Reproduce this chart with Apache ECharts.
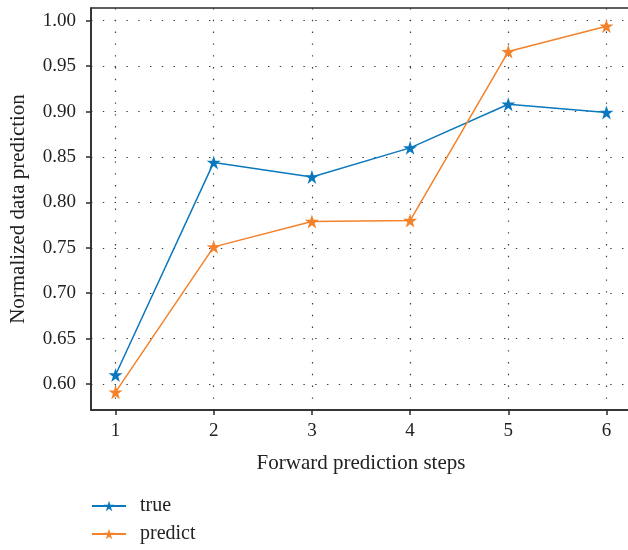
<!DOCTYPE html>
<html>
<head>
<meta charset="utf-8">
<script src="https://cdn.jsdelivr.net/npm/echarts@6/dist/echarts.min.js"></script>
<style>
html,body{margin:0;padding:0;background:#fff;}
#chart{width:628px;height:550px;}
</style>
</head>
<body>
<div id="chart"></div>
<script>
const steps = [1, 2, 3, 4, 5, 6];
const trueVals = [0.610, 0.844, 0.828, 0.860, 0.908, 0.899];
const predictVals = [0.591, 0.751, 0.779, 0.780, 0.966, 0.994];
const xTickValues = [1, 2, 3, 4, 5, 6];
const yTickValues = [0.60, 0.65, 0.70, 0.75, 0.80, 0.85, 0.90, 0.95, 1.00];
const seriesNames = ['true', 'predict'];
const xName = 'Forward prediction steps';
const yName = 'Normalized data prediction';

const FONT = 'Liberation Serif';
const STAR = 'path://M12,0 L14.9,8.6 L24,8.6 L16.6,14 L19.4,22.8 L12,17.4 L4.6,22.8 L7.4,14 L0,8.6 L9.1,8.6 Z';
const BLUE = '#0b78bd';
const ORANGE = '#f4822a';
const AXIS = '#2a2a2a';
const dotted = { color: '#3a3a3a', width: 1.2, type: [1.4, 10.4] };

const chart = echarts.init(document.getElementById('chart'), null, { renderer: 'canvas' });
chart.setOption({
  animation: false,
  backgroundColor: '#fff',
  textStyle: { fontFamily: FONT },
  grid: {
    left: 91, right: -3, top: 8, bottom: 140,
    containLabel: false, outerBoundsMode: 'none',
    show: true, borderColor: AXIS, borderWidth: 1.5, backgroundColor: 'transparent'
  },
  legend: {
    orient: 'vertical', left: 91, top: 496, padding: 0, height: 54,
    itemWidth: 34, itemHeight: 13, itemGap: 8,
    textStyle: { fontFamily: FONT, fontSize: 20, color: '#222', padding: [0, 0, 0, 9] },
    data: seriesNames
  },
  xAxis: {
    type: 'value', min: 0.75, max: 6.25,
    name: xName, nameLocation: 'middle', nameGap: 43,
    nameTextStyle: { fontFamily: FONT, fontSize: 21, color: '#222' },
    axisLine: { show: true, lineStyle: { color: AXIS, width: 1.5 } },
    axisTick: { show: true, customValues: xTickValues, length: 5, inside: false, lineStyle: { color: AXIS, width: 1.5 } },
    axisLabel: { customValues: xTickValues, fontFamily: FONT, fontSize: 19, color: '#222', margin: 12 },
    splitLine: { show: true, lineStyle: dotted }
  },
  yAxis: {
    type: 'value', min: 0.5714, max: 1.014,
    name: yName, nameLocation: 'middle', nameGap: 62, nameRotate: 90,
    nameTextStyle: { fontFamily: FONT, fontSize: 21, color: '#222' },
    axisLine: { show: true, lineStyle: { color: AXIS, width: 1.5 } },
    axisTick: { show: true, customValues: yTickValues, length: 5, inside: false, lineStyle: { color: AXIS, width: 1.5 } },
    axisLabel: { customValues: yTickValues, fontFamily: FONT, fontSize: 19, color: '#222', margin: 15,
      formatter: v => Number(v).toFixed(2) },
    splitLine: { show: true, lineStyle: dotted }
  },
  series: [
    {
      name: seriesNames[0], type: 'line',
      data: steps.map((s, i) => [s, trueVals[i]]),
      symbol: STAR, symbolSize: 14, showAllSymbol: true,
      itemStyle: { color: BLUE },
      lineStyle: { color: BLUE, width: 1.5 }
    },
    {
      name: seriesNames[1], type: 'line',
      data: steps.map((s, i) => [s, predictVals[i]]),
      symbol: STAR, symbolSize: 14, showAllSymbol: true,
      itemStyle: { color: ORANGE },
      lineStyle: { color: ORANGE, width: 1.5 }
    }
  ]
});
</script>
</body>
</html>
